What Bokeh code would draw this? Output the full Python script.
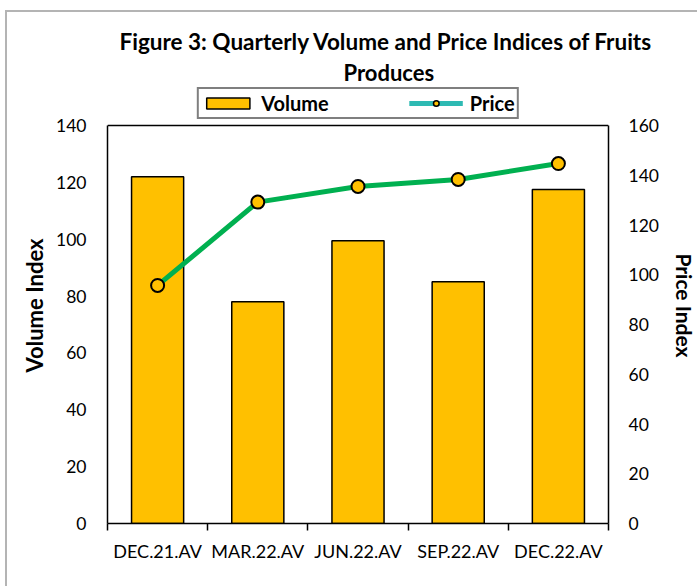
from bokeh.plotting import figure
from bokeh.models import Range1d, LinearAxis, FixedTicker, Legend, LegendItem, Title, Span
from bokeh.embed import file_html
from bokeh.resources import INLINE

# ---- data ----
categories = ["DEC.21.AV", "MAR.22.AV", "JUN.22.AV", "SEP.22.AV", "DEC.22.AV"]
volume = [122, 78, 99.5, 85, 117.5]
price = [95.7, 129.2, 135.5, 138.3, 144.7]
left_ticks = [0, 20, 40, 60, 80, 100, 120, 140]
right_ticks = [0, 20, 40, 60, 80, 100, 120, 140, 160]
VOL_MAX, PRICE_MAX = 140, 160

FONT = "Lato"
x = [i + 0.5 for i in range(len(categories))]
bounds = list(range(len(categories) + 1))

# the frame extends above the plotted box to hold the legend (Excel style)
HEAD = 436 / 398  # frame height / plot-box height
p = figure(width=692, height=576, x_range=Range1d(0, len(categories)),
           y_range=Range1d(0, VOL_MAX * HEAD), output_backend="svg",
           toolbar_location=None, title=None,
           min_border_left=100, min_border_right=87, min_border_top=75,
           min_border_bottom=65)
p.styles = {"border-left": "2px solid #b4b4b4", "border-top": "2px solid #b4b4b4",
            "margin-left": "5px", "margin-top": "10px"}
p.xgrid.visible = False
p.ygrid.visible = False
p.outline_line_color = None
p.extra_y_ranges = {"price": Range1d(0, PRICE_MAX * HEAD)}

# top edge of the plot box
p.add_layout(Span(location=VOL_MAX, dimension="width", line_color="black",
                  line_width=1.5))

bars = p.vbar(x=x, top=volume, width=0.52, fill_color="#FFC000",
              line_color="black", line_width=1.5)
p.line(x, price, y_range_name="price", line_color="#00B050", line_width=5)
p.scatter(x, price, y_range_name="price", size=13, fill_color="#FFC000",
          line_color="black", line_width=2)

# legend proxies (Excel legend shows a teal line); NaN so nothing is drawn in the plot
nan = float("nan")
leg_line = p.line(x=[nan, nan], y=[nan, nan], line_color="#2EBAB3", line_width=5)
leg_pt = p.scatter(x=[nan], y=[nan], size=12, fill_color="#FFC000",
                   line_color="black", line_width=1.5)

# ---- axes ----
xa = p.xaxis[0]
xa.ticker = FixedTicker(ticks=x, minor_ticks=bounds)
xa.major_label_overrides = {xi: c for xi, c in zip(x, categories)}
xa.major_tick_line_color = None
xa.major_tick_out = 0
xa.major_tick_in = 0
xa.minor_tick_line_color = "black"
xa.minor_tick_line_width = 1.5
xa.minor_tick_out = 7
xa.minor_tick_in = 0
xa.axis_line_color = "black"
xa.axis_line_width = 1.5
xa.major_label_standoff = 9
xa.major_label_text_font = FONT
xa.major_label_text_font_size = "18px"
xa.major_label_text_color = "black"

ya = p.yaxis[0]
ya.ticker = FixedTicker(ticks=left_ticks)
ya.bounds = (0, VOL_MAX)
ya.major_tick_line_color = None
ya.minor_tick_line_color = None
ya.major_tick_out = 0
ya.major_tick_in = 0
ya.axis_line_color = "black"
ya.axis_line_width = 1.5
ya.major_label_standoff = 21
ya.major_label_text_font = FONT
ya.major_label_text_font_size = "17.5px"
ya.major_label_text_color = "black"
ya.axis_label = "Volume Index"
ya.axis_label_text_font = FONT
ya.axis_label_text_font_style = "bold"
ya.axis_label_text_font_size = "22px"
ya.axis_label_text_color = "black"
ya.axis_label_standoff = 5

ra = LinearAxis(y_range_name="price", ticker=FixedTicker(ticks=right_ticks),
                bounds=(0, PRICE_MAX))
ra.major_tick_line_color = None
ra.minor_tick_line_color = None
ra.major_tick_out = 0
ra.major_tick_in = 0
ra.axis_line_color = "black"
ra.axis_line_width = 1.5
ra.major_label_standoff = 20
ra.major_label_text_font = FONT
ra.major_label_text_font_size = "17.5px"
ra.major_label_text_color = "black"
ra.axis_label = "Price Index"
ra.axis_label_text_font = FONT
ra.axis_label_text_font_style = "bold"
ra.axis_label_text_font_size = "21px"
ra.axis_label_text_color = "black"
ra.axis_label_standoff = 10
p.add_layout(ra, "right")

# ---- legend ----
legend = Legend(items=[LegendItem(label="Volume", renderers=[bars]),
                       LegendItem(label="Price", renderers=[leg_line, leg_pt])],
                orientation="horizontal", location="top",
                border_line_color="black", border_line_width=2,
                label_text_font=FONT, label_text_font_style="bold",
                label_text_font_size="20px", label_text_color="black",
                glyph_width=54, glyph_height=14, spacing=80, padding=2,
                margin=0, label_standoff=7)
p.add_layout(legend, "center")

# ---- title ----
t2 = Title(text="Produces", align="left", offset=236, text_font=FONT,
           text_font_style="bold", text_font_size="22px", text_color="black",
           standoff=4)
t1 = Title(text="Figure 3: Quarterly Volume and Price Indices of Fruits",
           align="left", offset=12, text_font=FONT, text_font_style="bold",
           text_font_size="22.5px", text_color="black", standoff=0)
p.add_layout(t2, "above")
p.add_layout(t1, "above")

open("out.html", "w").write(file_html(p, INLINE))
